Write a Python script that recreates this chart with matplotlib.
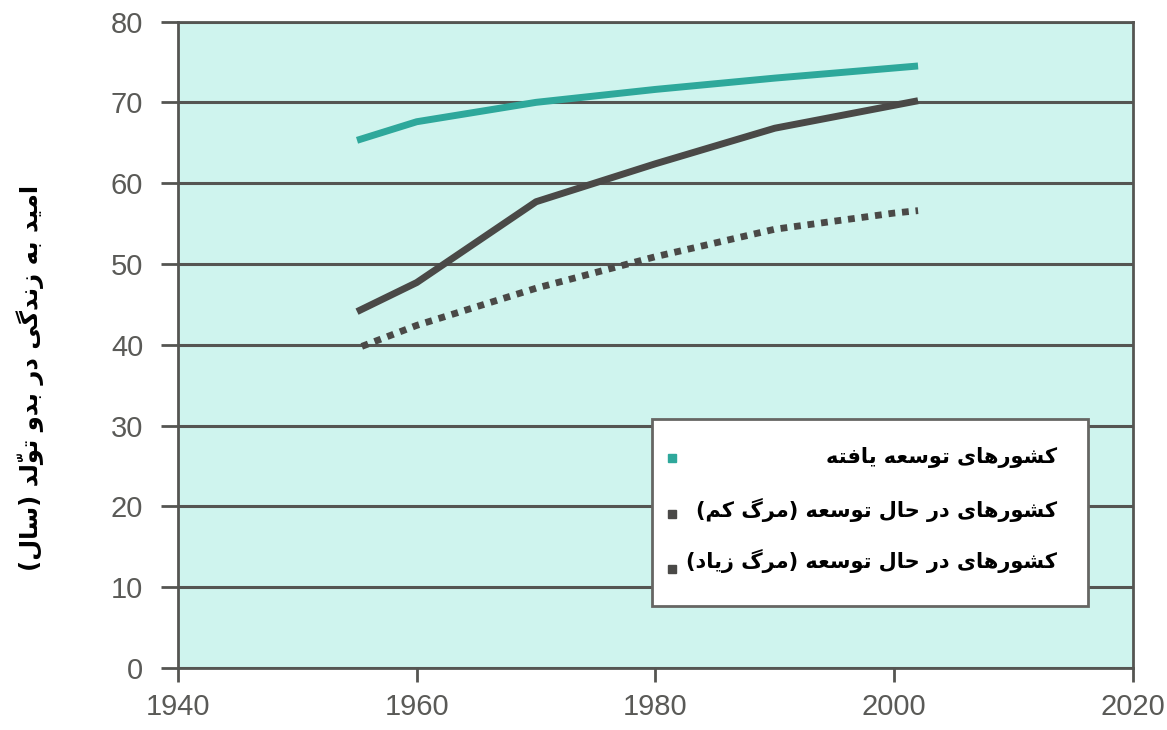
import matplotlib
matplotlib.use("Agg")
import matplotlib.pyplot as plt
from matplotlib.patches import Rectangle

# values
years_dev = [1955, 1960, 1970, 1980, 1990, 2002]
life_dev = [65.3, 67.6, 70.0, 71.6, 73.0, 74.5]
years_low = [1955, 1960, 1970, 1980, 1990, 2002]
life_low = [44.1, 47.7, 57.7, 62.4, 66.8, 70.2]
years_high = [1955.4, 1960, 1970, 1980, 1990, 2000, 2002]
life_high = [39.8, 42.4, 47.0, 50.9, 54.3, 56.3, 56.6]

labels = ["کشورهای توسعه یافته",
          "کشورهای در حال توسعه (مرگ کم)",
          "کشورهای در حال توسعه (مرگ زیاد)"]
y_label = "امید به زندگی در بدو تولّد (سال)"
x_ticks = [1940, 1960, 1980, 2000, 2020]
y_ticks = [0, 10, 20, 30, 40, 50, 60, 70, 80]

# presentation forms: (isolated, final[, initial, medial])
FORMS = {
    'ا': ('\uFE8D', '\uFE8E'),
    'ب': ('\uFE8F', '\uFE90', '\uFE91', '\uFE92'),
    'ت': ('\uFE95', '\uFE96', '\uFE97', '\uFE98'),
    'ح': ('\uFEA1', '\uFEA2', '\uFEA3', '\uFEA4'),
    'د': ('\uFEA9', '\uFEAA'),
    'ر': ('\uFEAD', '\uFEAE'),
    'ز': ('\uFEAF', '\uFEB0'),
    'س': ('\uFEB1', '\uFEB2', '\uFEB3', '\uFEB4'),
    'ش': ('\uFEB5', '\uFEB6', '\uFEB7', '\uFEB8'),
    'ع': ('\uFEC9', '\uFECA', '\uFECB', '\uFECC'),
    'ف': ('\uFED1', '\uFED2', '\uFED3', '\uFED4'),
    'ل': ('\uFEDD', '\uFEDE', '\uFEDF', '\uFEE0'),
    'م': ('\uFEE1', '\uFEE2', '\uFEE3', '\uFEE4'),
    'ن': ('\uFEE5', '\uFEE6', '\uFEE7', '\uFEE8'),
    'ه': ('\uFEE9', '\uFEEA', '\uFEEB', '\uFEEC'),
    'و': ('\uFEED', '\uFEEE'),
    'ی': ('\uFBFC', '\uFBFD', '\uFBFE', '\uFBFF'),
    'ک': ('\uFB8E', '\uFB8F', '\uFB90', '\uFB91'),
    'گ': ('\uFB92', '\uFB93', '\uFB94', '\uFB95'),
}
MARKS = {'\u0651'}
MIRROR = {'(': ')', ')': '('}


def rtl(text):
    # matplotlib has no arabic shaping, so do joining + visual order by hand
    clusters = []
    for ch in text:
        if ch in MARKS and clusters:
            clusters[-1][1] += ch
        else:
            clusters.append([ch, ''])
    bases = [c[0] for c in clusters]
    out = []
    for k, b in enumerate(bases):
        if b in FORMS:
            prev = bases[k - 1] if k > 0 else None
            nxt = bases[k + 1] if k + 1 < len(bases) else None
            jp = prev in FORMS and len(FORMS[prev]) == 4
            jn = len(FORMS[b]) == 4 and nxt in FORMS
            f = FORMS[b]
            if jp and jn:
                g = f[3]
            elif jn:
                g = f[2]
            elif jp:
                g = f[1]
            else:
                g = f[0]
        else:
            g = MIRROR.get(b, b)
        out.append(g + clusters[k][1])
    return ''.join(reversed(out))


fa_font = ['DejaVu Sans']
num_font = ['Liberation Sans', 'DejaVu Sans']
grey = '#555552'

fig = plt.figure(figsize=(11.67, 7.30), dpi=100)
ax = fig.add_axes([0.1525, 0.0849, 0.8183, 0.8856])
ax.set_facecolor('#cff4ee')

ax.plot(years_dev, life_dev, color='#2ea89b', lw=5, solid_capstyle='butt', zorder=3)
ax.plot(years_low, life_low, color='#4a4947', lw=5, solid_capstyle='butt', zorder=3)
ax.plot(years_high, life_high, color='#4a4947', lw=4.9, linestyle=(0, (1, 1)),
        dash_capstyle='butt', zorder=3)

ax.set_xlim(1940, 2020)
ax.set_ylim(0, 80)
ax.set_xticks(x_ticks)
ax.set_yticks(y_ticks)
ax.yaxis.grid(True, color=grey, lw=2.2, zorder=1)
ax.set_axisbelow(True)
for s in ax.spines.values():
    s.set_color(grey)
    s.set_linewidth(2)
ax.tick_params(axis='both', direction='out', color=grey, width=2, labelcolor='#5a5a57')
ax.tick_params(axis='x', length=10, pad=8)
ax.tick_params(axis='y', length=12, pad=13)
for t in ax.get_xticklabels() + ax.get_yticklabels():
    t.set_family(num_font)
    t.set_fontsize(21)

ax.set_ylabel(rtl(y_label), family=fa_font, fontsize=17.5, fontweight='bold',
              color='black')
ax.yaxis.set_label_coords(-0.14, 0.449)

# legend box drawn by hand: text right aligned, keys far left
ax.add_patch(Rectangle((0.4963, 0.0959), 0.4566, 0.2891, transform=ax.transAxes,
                       facecolor='white', edgecolor='#666663', lw=2, zorder=5))
key_colors = ['#2ea89b', '#4a4947', '#4a4947']
text_y = [0.3264, 0.2444, 0.1655]
key_y = [0.3245, 0.2382, 0.1535]
for lab, c, ty, ky in zip(labels, key_colors, text_y, key_y):
    ax.plot([0.5173], [ky], marker='s', ms=5.5, color=c, transform=ax.transAxes,
            zorder=6, clip_on=False)
    ax.text(0.9204, ty, rtl(lab), transform=ax.transAxes, ha='right', va='center',
            family=fa_font, fontsize=15, fontweight='bold', color='black', zorder=6)

fig.savefig('out.png', dpi=100)
